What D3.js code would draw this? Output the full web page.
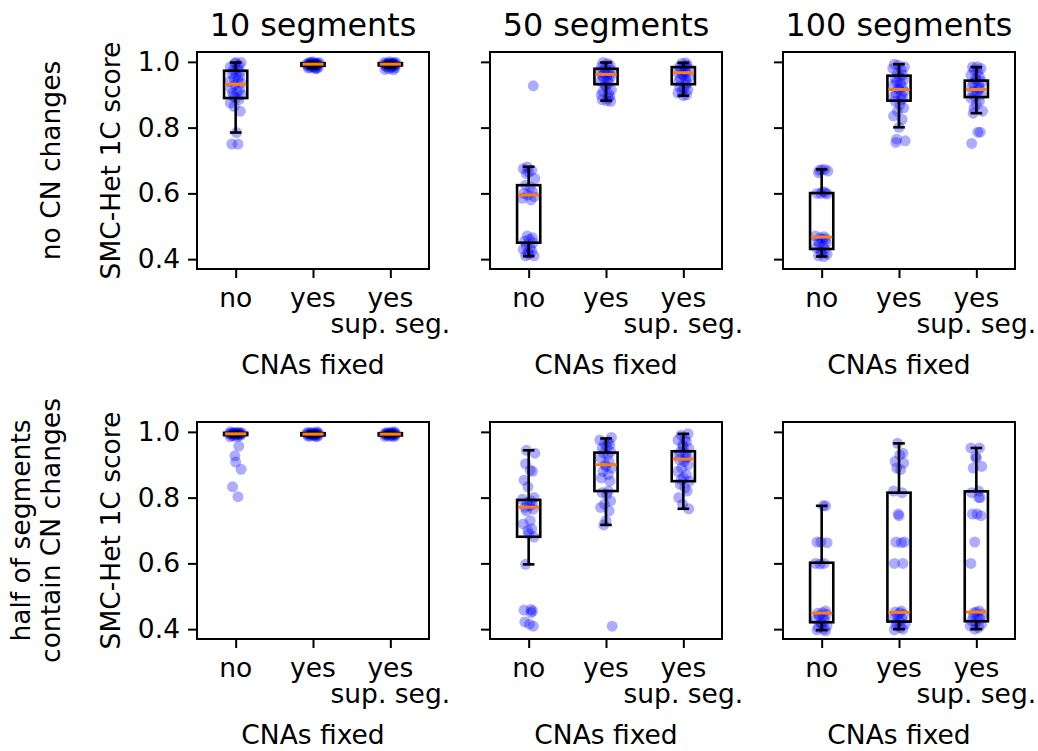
<!DOCTYPE html>
<html><head><meta charset="utf-8">
<script src="https://cdn.jsdelivr.net/npm/d3@7"></script>
<style>body{margin:0;background:#fff}svg{display:block}text{font-family:"DejaVu Sans",sans-serif}</style>
</head><body><svg id="c" width="1038" height="751"></svg>
<script>
// ---- data ----
const columnTitles = ["10 segments", "50 segments", "100 segments"];
const rowLabels = [["no CN changes"], ["half of segments", "contain CN changes"]];
const categories = [["no"], ["yes"], ["yes", "sup. seg."]];
const yTicks = [0.4, 0.6, 0.8, 1.0];
const yLabel = "SMC-Het 1C score";
const xLabel = "CNAs fixed";

// scores per panel: [no, yes, yes sup. seg.]
const scores_noCN_10 = [
  [0.75,0.75,0.785,0.85,0.865,0.875,0.885,0.89,0.895,0.90,0.905,0.91,0.915,0.92,0.93,0.935,0.94,0.945,0.95,0.955,0.96,0.965,0.97,0.975,0.98,0.985,0.99,0.995,0.998,0.998],
  [1.0,0.999,0.998,0.997,0.996,0.996,0.995,0.995,0.994,0.994,0.993,0.993,0.993,0.992,0.992,0.991,0.990,0.989,0.988,0.987,0.986,0.985,0.984,0.983,0.982,0.981,0.980,0.979],
  [1.0,0.999,0.998,0.997,0.996,0.996,0.995,0.995,0.994,0.994,0.993,0.993,0.993,0.992,0.992,0.991,0.990,0.989,0.988,0.987,0.986,0.985,0.983,0.981,0.979,0.977,0.976]
];
const scores_noCN_50 = [
  [0.927,0.68,0.675,0.67,0.665,0.66,0.645,0.625,0.62,0.605,0.60,0.595,0.59,0.585,0.58,0.47,0.465,0.46,0.455,0.45,0.44,0.435,0.43,0.425,0.42,0.415,0.41,0.41],
  [0.998,0.995,0.99,0.985,0.98,0.975,0.97,0.968,0.965,0.962,0.96,0.958,0.955,0.95,0.945,0.94,0.935,0.93,0.925,0.915,0.91,0.905,0.9,0.895,0.89,0.885,0.882,0.88],
  [0.997,0.995,0.99,0.987,0.985,0.98,0.975,0.97,0.968,0.965,0.962,0.96,0.955,0.95,0.945,0.94,0.935,0.93,0.925,0.92,0.915,0.91,0.905,0.9,0.897]
];
const scores_noCN_100 = [
  [0.673,0.672,0.67,0.668,0.663,0.605,0.602,0.60,0.60,0.598,0.47,0.468,0.465,0.462,0.46,0.455,0.45,0.445,0.44,0.435,0.43,0.425,0.42,0.415,0.41,0.408],
  [0.993,0.99,0.985,0.98,0.975,0.965,0.96,0.955,0.95,0.945,0.94,0.935,0.93,0.925,0.92,0.916,0.91,0.905,0.9,0.895,0.89,0.885,0.88,0.87,0.86,0.85,0.835,0.825,0.801,0.765,0.76,0.755],
  [0.985,0.984,0.98,0.975,0.97,0.96,0.955,0.95,0.945,0.94,0.935,0.93,0.925,0.92,0.916,0.91,0.905,0.9,0.895,0.89,0.88,0.87,0.86,0.85,0.844,0.786,0.786,0.752]
];
const scores_halfCN_10 = [
  [1.0,0.999,0.998,0.997,0.997,0.996,0.996,0.995,0.995,0.994,0.994,0.994,0.993,0.993,0.992,0.991,0.990,0.989,0.988,0.986,0.985,0.957,0.927,0.908,0.886,0.833,0.803],
  [1.0,0.999,0.998,0.997,0.996,0.996,0.995,0.995,0.994,0.994,0.993,0.993,0.993,0.992,0.992,0.991,0.990,0.989,0.988,0.987,0.986,0.985,0.990],
  [1.0,0.999,0.998,0.997,0.996,0.996,0.995,0.995,0.994,0.994,0.993,0.993,0.993,0.992,0.992,0.991,0.990,0.989,0.988,0.987,0.986,0.985]
];
const scores_halfCN_50 = [
  [0.944,0.935,0.903,0.883,0.88,0.853,0.833,0.80,0.795,0.79,0.785,0.78,0.775,0.77,0.765,0.76,0.73,0.72,0.705,0.70,0.69,0.68,0.597,0.46,0.458,0.455,0.45,0.422,0.415,0.409],
  [0.983,0.975,0.97,0.965,0.96,0.955,0.95,0.94,0.935,0.93,0.92,0.91,0.9,0.895,0.89,0.88,0.87,0.86,0.85,0.82,0.815,0.81,0.79,0.78,0.77,0.76,0.73,0.717,0.409],
  [0.994,0.99,0.98,0.975,0.97,0.96,0.955,0.95,0.94,0.935,0.93,0.925,0.92,0.915,0.91,0.9,0.89,0.88,0.87,0.86,0.855,0.85,0.84,0.83,0.82,0.80,0.78,0.766]
];
const scores_halfCN_100 = [
  [0.775,0.775,0.665,0.665,0.663,0.60,0.60,0.598,0.455,0.45,0.448,0.445,0.44,0.435,0.43,0.425,0.42,0.415,0.41,0.405,0.40,0.398,0.395],
  [0.965,0.935,0.93,0.91,0.905,0.89,0.885,0.82,0.815,0.75,0.745,0.665,0.665,0.663,0.60,0.60,0.455,0.452,0.45,0.445,0.44,0.435,0.43,0.425,0.42,0.415,0.41,0.405,0.40,0.398],
  [0.951,0.951,0.925,0.92,0.895,0.89,0.82,0.815,0.80,0.80,0.75,0.75,0.745,0.665,0.60,0.455,0.452,0.45,0.445,0.44,0.435,0.43,0.425,0.42,0.415,0.41,0.405,0.40]
];

// box statistics: [whisker low, q1, median, q3, whisker high]
const boxes_noCN_10 = [[0.785,0.89,0.932,0.973,0.998],[0.981,0.988,0.993,0.996,1.0],[0.982,0.989,0.993,0.996,1.0]];
const boxes_noCN_50 = [[0.409,0.45,0.595,0.625,0.681],[0.882,0.932,0.962,0.979,0.998],[0.897,0.932,0.967,0.984,0.997]];
const boxes_noCN_100 = [[0.408,0.431,0.467,0.601,0.673],[0.801,0.882,0.916,0.958,0.993],[0.844,0.893,0.916,0.943,0.984]];
const boxes_halfCN_10 = [[0.985,0.990,0.994,0.997,1.0],[0.985,0.989,0.993,0.996,1.0],[0.985,0.989,0.993,0.996,1.0]];
const boxes_halfCN_50 = [[0.597,0.681,0.771,0.793,0.944],[0.717,0.82,0.9,0.937,0.98],[0.766,0.85,0.917,0.941,0.994]];
const boxes_halfCN_100 = [[0.397,0.421,0.449,0.602,0.775],[0.4,0.423,0.451,0.815,0.965],[0.4,0.424,0.452,0.819,0.951]];

// fixed horizontal jitter offsets (category units)
const jitter = [0.03,-0.05,0.01,0.06,-0.02,-0.07,0.04,0.00,-0.03,0.08,-0.04,0.02,0.05,-0.06,-0.01,0.07,-0.08,0.03,-0.02,0.05,0.01,-0.05,0.06,-0.03,0.02,-0.07,0.04,-0.01,0.00,0.07,-0.04,0.03,-0.06,0.05];

const panels = [
  [scores_noCN_10, scores_noCN_50, scores_noCN_100],
  [scores_halfCN_10, scores_halfCN_50, scores_halfCN_100]
];
const panelBoxes = [
  [boxes_noCN_10, boxes_noCN_50, boxes_noCN_100],
  [boxes_halfCN_10, boxes_halfCN_50, boxes_halfCN_100]
];

// ---- layout ----
const svg = d3.select("#c");
const FS = 26.5;
const colLeft = [197, 490, 783], panelW = 232;
const rowTop = [52, 422], panelH = 217;
const boxW = 0.3, capW = 0.15;

panels.forEach((row, r) => {
  row.forEach((groups, c) => {
    const x = d3.scaleLinear().domain([0.5, 3.5]).range([colLeft[c], colLeft[c] + panelW]);
    const y = d3.scaleLinear().domain([0.37, 1.03]).range([rowTop[r] + panelH, rowTop[r]]);
    const g = svg.append("g");

    // points
    groups.forEach((vals, k) => {
      g.append("g").selectAll("circle").data(vals).join("circle")
        .attr("cx", (d, i) => x(k + 1 + jitter[(i + k * 7 + c * 3 + r * 5) % jitter.length]))
        .attr("cy", d => y(d))
        .attr("r", 5.5)
        .attr("fill", "#0000ff").attr("fill-opacity", 0.32);
    });

    // boxes
    panelBoxes[r][c].forEach((s, k) => {
      const cx = k + 1;
      const [wl, q1, med, q3, wh] = s;
      const bg = g.append("g").attr("stroke", "#000").attr("stroke-width", 2.6).attr("fill", "none");
      bg.append("line").attr("x1", x(cx)).attr("x2", x(cx)).attr("y1", y(q1)).attr("y2", y(wl));
      bg.append("line").attr("x1", x(cx)).attr("x2", x(cx)).attr("y1", y(q3)).attr("y2", y(wh));
      bg.append("line").attr("x1", x(cx - capW / 2)).attr("x2", x(cx + capW / 2)).attr("y1", y(wl)).attr("y2", y(wl));
      bg.append("line").attr("x1", x(cx - capW / 2)).attr("x2", x(cx + capW / 2)).attr("y1", y(wh)).attr("y2", y(wh));
      bg.append("rect").attr("x", x(cx - boxW / 2)).attr("width", x(cx + boxW / 2) - x(cx - boxW / 2))
        .attr("y", y(q3)).attr("height", Math.max(0.5, y(q1) - y(q3)));
      g.append("line").attr("x1", x(cx - boxW / 2) + 1).attr("x2", x(cx + boxW / 2) - 1)
        .attr("y1", y(med)).attr("y2", y(med)).attr("stroke", "#ff7f0e").attr("stroke-width", 3);
    });

    // frame
    g.append("rect").attr("x", colLeft[c]).attr("y", rowTop[r]).attr("width", panelW).attr("height", panelH)
      .attr("fill", "none").attr("stroke", "#000").attr("stroke-width", 2);

    // y axis
    const ya = g.append("g").attr("transform", `translate(${colLeft[c]},0)`)
      .call(d3.axisLeft(y).tickValues(yTicks).tickSize(9).tickPadding(8)
        .tickFormat(c === 0 ? d3.format(".1f") : () => ""));
    ya.select(".domain").remove();
    ya.selectAll(".tick line").attr("stroke-width", 2);
    ya.selectAll(".tick text").attr("font-size", FS).attr("fill", "#000").attr("font-family", "DejaVu Sans");

    // x axis
    const xa = g.append("g").attr("transform", `translate(0,${rowTop[r] + panelH})`)
      .call(d3.axisBottom(x).tickValues([1, 2, 3]).tickSize(9).tickFormat(() => ""));
    xa.select(".domain").remove();
    xa.selectAll(".tick line").attr("stroke-width", 2);
    categories.forEach((lines, k) => {
      const t = g.append("text").attr("x", x(k + 1)).attr("y", rowTop[r] + panelH + 38)
        .attr("text-anchor", "middle").attr("font-size", FS);
      lines.forEach((s, li) => {
        t.append("tspan").attr("x", x(k + 1)).attr("dy", li === 0 ? 0 : 26).text(s);
      });
    });
    g.append("text").attr("x", colLeft[c] + panelW / 2).attr("y", rowTop[r] + panelH + 105)
      .attr("text-anchor", "middle").attr("font-size", FS).text(xLabel);

    if (r === 0) {
      g.append("text").attr("x", colLeft[c] + panelW / 2).attr("y", 36)
        .attr("text-anchor", "middle").attr("font-size", FS * 1.2).text(columnTitles[c]);
    }
    if (c === 0) {
      const cy = rowTop[r] + panelH / 2;
      g.append("text").attr("transform", `translate(120,${cy}) rotate(-90)`)
        .attr("text-anchor", "middle").attr("font-size", FS).text(yLabel);
      const lines = rowLabels[r];
      const t = g.append("text").attr("transform", `translate(${60 - (lines.length - 1) * 30},${cy}) rotate(-90)`)
        .attr("text-anchor", "middle").attr("font-size", FS);
      lines.forEach((s, li) => {
        t.append("tspan").attr("x", 0).attr("dy", li === 0 ? 0 : 30).text(s);
      });
    }
  });
});
</script></body></html>
